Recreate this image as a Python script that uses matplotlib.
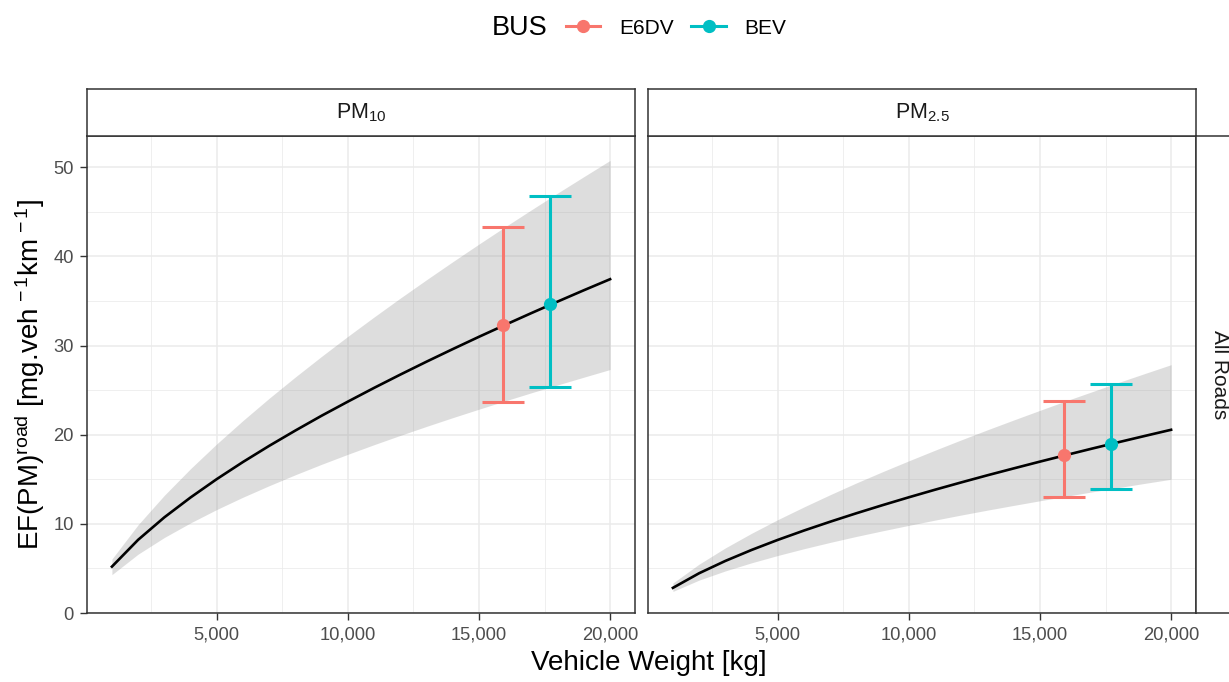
import matplotlib
matplotlib.use('Agg')
import matplotlib.pyplot as plt
from matplotlib.lines import Line2D
from matplotlib.ticker import FixedLocator, FuncFormatter

plt.rcParams['font.family'] = ['Liberation Sans', 'DejaVu Sans']
plt.rcParams['mathtext.fontset'] = 'custom'
plt.rcParams['mathtext.rm'] = 'Liberation Sans'
plt.rcParams['mathtext.it'] = 'Liberation Sans:italic'
plt.rcParams['mathtext.default'] = 'regular'

# Data
weights = [1000, 2000, 3000, 4000, 5000, 6000, 7000, 8000, 9000, 10000,
           11000, 12000, 13000, 14000, 15000, 16000, 17000, 18000, 19000, 20000]

pm10_mid = [5.20, 8.21, 10.73, 12.96, 15.02, 16.94, 18.75, 20.47, 22.13, 23.71,
            25.25, 26.74, 28.19, 29.60, 30.98, 32.32, 33.64, 34.93, 36.20, 37.44]
pm10_hi = [6.05, 9.90, 13.20, 16.19, 18.97, 21.59, 24.09, 26.48, 28.79, 31.03,
           33.20, 35.32, 37.38, 39.40, 41.38, 43.32, 45.22, 47.10, 48.94, 50.76]
pm10_lo = [4.30, 6.60, 8.47, 10.11, 11.61, 12.99, 14.28, 15.51, 16.68, 17.80,
           18.88, 19.92, 20.93, 21.91, 22.86, 23.79, 24.70, 25.58, 26.45, 27.31]

pm25_mid = [2.82, 4.46, 5.84, 7.07, 8.20, 9.25, 10.24, 11.19, 12.10, 12.98,
            13.83, 14.65, 15.45, 16.22, 16.98, 17.72, 18.45, 19.16, 19.86, 20.55]
pm25_hi = [3.36, 5.48, 7.30, 8.94, 10.47, 11.90, 13.27, 14.59, 15.85, 17.07,
           18.26, 19.42, 20.55, 21.65, 22.73, 23.80, 24.83, 25.86, 26.86, 27.85]
pm25_lo = [2.42, 3.69, 4.72, 5.63, 6.45, 7.21, 7.92, 8.59, 9.22, 9.83,
           10.42, 10.99, 11.54, 12.07, 12.59, 13.09, 13.59, 14.07, 14.54, 15.00]

buses = ['E6DV', 'BEV']
bus_colors = ['#F8766D', '#00BFC4']
bus_weight = [15920, 17720]
pm10_bus = [32.3, 34.7]
pm10_bus_lo = [23.7, 25.3]
pm10_bus_hi = [43.3, 46.8]
pm25_bus = [17.7, 19.0]
pm25_bus_lo = [13.0, 13.9]
pm25_bus_hi = [23.8, 25.7]

W, H = 1229, 682


def box(x0, y0, x1, y1):
    return [x0 / W, 1 - y1 / H, (x1 - x0) / W, (y1 - y0) / H]


fig = plt.figure(figsize=(W / 100, H / 100), dpi=100)

panels = [
    (box(87, 136, 635, 613), box(87, 89, 635, 136), r'PM$_{10}$',
     pm10_mid, pm10_lo, pm10_hi, pm10_bus, pm10_bus_lo, pm10_bus_hi),
    (box(648, 136, 1196, 613), box(648, 89, 1196, 136), r'PM$_{2.5}$',
     pm25_mid, pm25_lo, pm25_hi, pm25_bus, pm25_bus_lo, pm25_bus_hi),
]

for i, (pos, spos, title, mid, lo, hi, pt, plo, phi) in enumerate(panels):
    ax = fig.add_axes(pos)
    ax.set_xlim(50, 20950)
    ax.set_ylim(0, 53.5)
    ax.xaxis.set_major_locator(FixedLocator([5000, 10000, 15000, 20000]))
    ax.xaxis.set_minor_locator(FixedLocator([2500, 7500, 12500, 17500]))
    ax.yaxis.set_major_locator(FixedLocator([0, 10, 20, 30, 40, 50]))
    ax.yaxis.set_minor_locator(FixedLocator([5, 15, 25, 35, 45]))
    ax.xaxis.set_major_formatter(FuncFormatter(lambda v, p: f'{int(v):,}'))
    ax.grid(which='major', color='#EBEBEB', lw=1.1, zorder=0)
    ax.grid(which='minor', color='#EBEBEB', lw=0.55, zorder=0)
    ax.set_axisbelow(True)
    for s in ax.spines.values():
        s.set_color('#333333')
        s.set_linewidth(1.1)
    ax.tick_params(which='major', length=5, width=1, color='#333333',
                   labelsize=13.2, labelcolor='#4D4D4D')
    ax.tick_params(axis='x', pad=4.5)
    ax.tick_params(axis='y', pad=4.5)
    ax.tick_params(which='minor', length=0)
    if i == 1:
        ax.tick_params(axis='y', left=False, labelleft=False)

    ax.fill_between(weights, lo, hi, color='#7F7F7F', alpha=0.26, lw=0, zorder=2)
    ax.plot(weights, mid, color='black', lw=1.9, zorder=3)

    for j in range(len(buses)):
        ax.errorbar([bus_weight[j]], [pt[j]],
                    yerr=[[pt[j] - plo[j]], [phi[j] - pt[j]]],
                    fmt='o', color=bus_colors[j], ms=8.5, elinewidth=2.2,
                    capsize=15, capthick=2.2, zorder=4)

    sax = fig.add_axes(spos)
    sax.set_xticks([])
    sax.set_yticks([])
    sax.set_facecolor('white')
    for s in sax.spines.values():
        s.set_color('#333333')
        s.set_linewidth(1.1)
    sax.text(0.5, 0.5, title, ha='center', va='center', fontsize=15.5,
             color='#1A1A1A', transform=sax.transAxes)

# facet row strip on the right (runs off the edge, as in the original)
rax = fig.add_axes(box(1196, 136, 1243, 613))
rax.set_xticks([])
rax.set_yticks([])
for s in rax.spines.values():
    s.set_color('#333333')
    s.set_linewidth(1.1)
rax.text(0.5, 0.5, 'All Roads', ha='center', va='center', rotation=-90,
         fontsize=15, color='#1A1A1A', transform=rax.transAxes)

fig.text(649 / W, 1 - 663 / H, 'Vehicle Weight [kg]', ha='center', va='center',
         fontsize=20)
fig.text(30 / W, 1 - 374.5 / H,
         r'EF(PM)$^{road}$ [mg.veh$^{\,-1}$km$^{\,-1}$]',
         ha='center', va='center', rotation=90, fontsize=20)

# legend on top
fig.text(492 / W, 1 - 28 / H, 'BUS', ha='left', va='center', fontsize=19.5)
handles = [Line2D([], [], color=c, marker='o', lw=2.2, ms=8.5) for c in bus_colors]
fig.legend(handles, buses, ncol=2, loc='center left',
           bbox_to_anchor=(566 / W, 1 - 28 / H), frameon=False, fontsize=15,
           handlelength=1.65, handletextpad=0.9, columnspacing=0.85,
           borderpad=0, borderaxespad=0)

fig.savefig('out.png', dpi=100)
